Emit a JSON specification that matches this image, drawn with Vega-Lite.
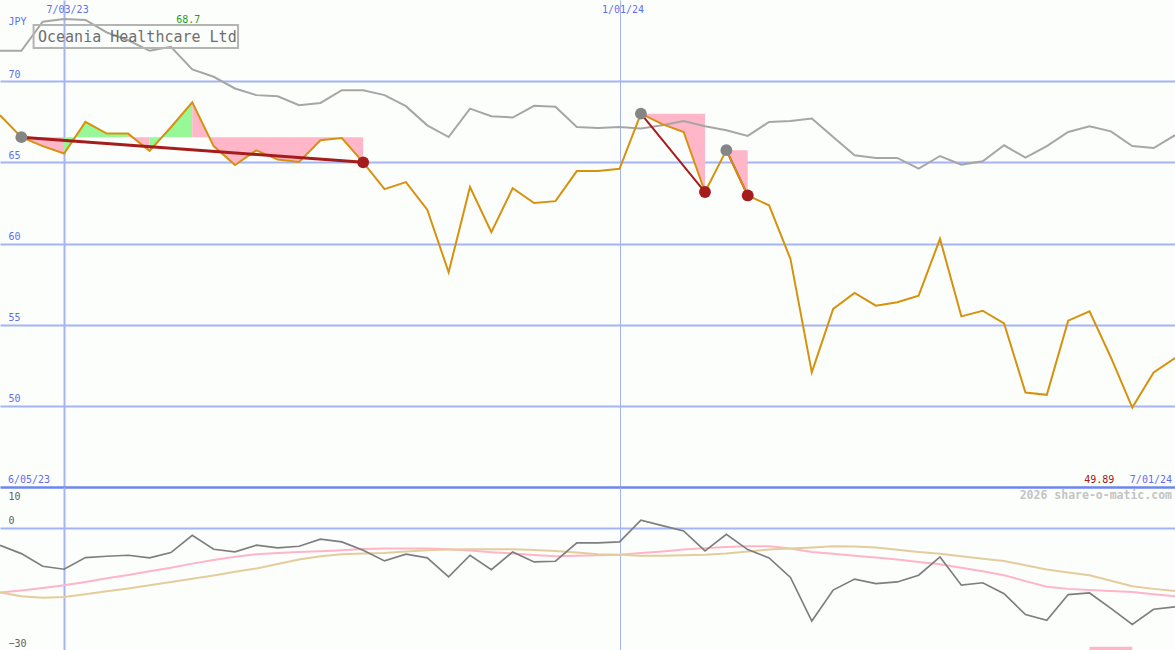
{
  "$schema": "https://vega.github.io/schema/vega-lite/v6.json",
  "background": "#fcfefc",
  "padding": 0,
  "autosize": {"type": "pad"},
  "spacing": 0,
  "bounds": "flush",
  "config": {"view": {"stroke": null}, "font": "DejaVu Sans Mono"},
  "datasets": {
    "weekly": [
      {"d":"2023-06-12","p":67.9,"g":71.87,"o":-4.29,"m1":-15.9,"m2":-15.9},
      {"d":"2023-06-19","p":66.55,"g":71.87,"o":-6.34,"m1":-15.4,"m2":-16.8},
      {"d":"2023-06-26","p":66.0,"g":73.66,"o":-9.45,"m1":-14.8,"m2":-17.2},
      {"d":"2023-07-03","p":65.54,"g":73.83,"o":-10.18,"m1":-14.1,"m2":-17.0},
      {"d":"2023-07-10","p":67.49,"g":73.77,"o":-7.32,"m1":-13.3,"m2":-16.3},
      {"d":"2023-07-17","p":66.77,"g":73.0,"o":-7.0,"m1":-12.4,"m2":-15.6},
      {"d":"2023-07-24","p":66.77,"g":72.52,"o":-6.75,"m1":-11.6,"m2":-14.9},
      {"d":"2023-07-31","p":65.7,"g":71.87,"o":-7.4,"m1":-10.7,"m2":-14.1},
      {"d":"2023-08-07","p":67.16,"g":72.12,"o":-6.09,"m1":-9.8,"m2":-13.3},
      {"d":"2023-08-14","p":68.7,"g":70.72,"o":-1.84,"m1":-8.8,"m2":-12.5},
      {"d":"2023-08-21","p":66.0,"g":70.27,"o":-5.28,"m1":-7.9,"m2":-11.7},
      {"d":"2023-08-28","p":64.83,"g":69.55,"o":-5.93,"m1":-7.1,"m2":-10.8},
      {"d":"2023-09-04","p":65.74,"g":69.14,"o":-4.29,"m1":-6.5,"m2":-10.0},
      {"d":"2023-09-11","p":65.17,"g":69.07,"o":-4.95,"m1":-6.2,"m2":-8.9},
      {"d":"2023-09-18","p":65.02,"g":68.52,"o":-4.54,"m1":-5.95,"m2":-7.8},
      {"d":"2023-09-25","p":66.36,"g":68.66,"o":-2.82,"m1":-5.77,"m2":-7.0},
      {"d":"2023-10-02","p":66.5,"g":69.44,"o":-3.48,"m1":-5.5,"m2":-6.5},
      {"d":"2023-10-09","p":65.0,"g":69.44,"o":-5.52,"m1":-5.2,"m2":-6.3},
      {"d":"2023-10-16","p":63.35,"g":69.14,"o":-8.14,"m1":-5.1,"m2":-6.2},
      {"d":"2023-10-23","p":63.78,"g":68.46,"o":-6.5,"m1":-5.1,"m2":-5.8},
      {"d":"2023-10-30","p":62.08,"g":67.28,"o":-7.4,"m1":-5.1,"m2":-5.5},
      {"d":"2023-11-06","p":58.23,"g":66.56,"o":-12.07,"m1":-5.3,"m2":-5.35},
      {"d":"2023-11-13","p":63.48,"g":68.31,"o":-6.75,"m1":-5.6,"m2":-5.28},
      {"d":"2023-11-20","p":60.7,"g":67.84,"o":-10.27,"m1":-6.0,"m2":-5.28},
      {"d":"2023-11-27","p":63.41,"g":67.76,"o":-5.93,"m1":-6.3,"m2":-5.28},
      {"d":"2023-12-04","p":62.49,"g":68.48,"o":-8.39,"m1":-6.7,"m2":-5.45},
      {"d":"2023-12-11","p":62.61,"g":68.42,"o":-8.22,"m1":-7.0,"m2":-5.68},
      {"d":"2023-12-18","p":64.46,"g":67.18,"o":-3.72,"m1":-6.9,"m2":-6.1},
      {"d":"2023-12-25","p":64.46,"g":67.12,"o":-3.72,"m1":-6.75,"m2":-6.5},
      {"d":"2024-01-01","p":64.6,"g":67.18,"o":-3.48,"m1":-6.6,"m2":-6.6},
      {"d":"2024-01-08","p":68.0,"g":67.08,"o":1.84,"m1":-6.2,"m2":-6.9},
      {"d":"2024-01-15","p":67.35,"g":67.28,"o":0.53,"m1":-5.8,"m2":-6.85},
      {"d":"2024-01-22","p":66.87,"g":67.55,"o":-0.78,"m1":-5.36,"m2":-6.75},
      {"d":"2024-01-29","p":63.17,"g":67.22,"o":-5.68,"m1":-5.0,"m2":-6.6},
      {"d":"2024-02-05","p":65.75,"g":66.98,"o":-1.6,"m1":-4.7,"m2":-6.3},
      {"d":"2024-02-12","p":62.96,"g":66.63,"o":-5.36,"m1":-4.54,"m2":-5.8},
      {"d":"2024-02-19","p":62.35,"g":67.49,"o":-7.4,"m1":-4.54,"m2":-5.36},
      {"d":"2024-02-26","p":59.05,"g":67.55,"o":-12.2,"m1":-5.1,"m2":-5.1},
      {"d":"2024-03-04","p":52.06,"g":67.7,"o":-22.9,"m1":-5.93,"m2":-4.87},
      {"d":"2024-03-11","p":55.97,"g":66.56,"o":-15.3,"m1":-6.4,"m2":-4.54},
      {"d":"2024-03-18","p":56.96,"g":65.43,"o":-12.6,"m1":-6.9,"m2":-4.6},
      {"d":"2024-03-25","p":56.17,"g":65.27,"o":-13.7,"m1":-7.3,"m2":-4.87},
      {"d":"2024-04-01","p":56.38,"g":65.27,"o":-13.3,"m1":-7.8,"m2":-5.4},
      {"d":"2024-04-08","p":56.79,"g":64.61,"o":-11.66,"m1":-8.4,"m2":-5.93},
      {"d":"2024-04-15","p":60.29,"g":65.39,"o":-7.16,"m1":-8.96,"m2":-6.4},
      {"d":"2024-04-22","p":55.51,"g":64.86,"o":-14.1,"m1":-9.8,"m2":-7.0},
      {"d":"2024-04-29","p":55.86,"g":65.06,"o":-13.5,"m1":-10.7,"m2":-7.6},
      {"d":"2024-05-06","p":55.08,"g":66.05,"o":-16.2,"m1":-11.66,"m2":-8.14},
      {"d":"2024-05-13","p":50.82,"g":65.29,"o":-21.3,"m1":-13.1,"m2":-9.2},
      {"d":"2024-05-20","p":50.68,"g":66.0,"o":-22.7,"m1":-14.5,"m2":-10.27},
      {"d":"2024-05-27","p":55.25,"g":66.87,"o":-16.4,"m1":-15.0,"m2":-11.0},
      {"d":"2024-06-03","p":55.82,"g":67.22,"o":-16.0,"m1":-15.3,"m2":-11.66},
      {"d":"2024-06-10","p":52.98,"g":66.91,"o":-19.8,"m1":-15.5,"m2":-13.0},
      {"d":"2024-06-17","p":49.89,"g":66.0,"o":-23.7,"m1":-15.75,"m2":-14.36},
      {"d":"2024-06-24","p":52.06,"g":65.88,"o":-20.0,"m1":-16.3,"m2":-15.0},
      {"d":"2024-07-01","p":52.94,"g":66.67,"o":-19.4,"m1":-16.8,"m2":-15.5}
    ],
    "fills": [
      {"seg":"A","d":"2023-06-19","p":66.55,"lvl":66.55,"c":"loss"},
      {"seg":"A","d":"2023-06-26","p":66.0,"lvl":66.55,"c":"loss"},
      {"seg":"A","d":"2023-07-03","p":65.54,"lvl":66.55,"c":"loss"},
      {"seg":"B","d":"2023-07-03","p":65.54,"lvl":66.55,"c":"gain"},
      {"seg":"B","d":"2023-07-10","p":67.49,"lvl":66.55,"c":"gain"},
      {"seg":"B","d":"2023-07-17","p":66.77,"lvl":66.55,"c":"gain"},
      {"seg":"B","d":"2023-07-24","p":66.77,"lvl":66.55,"c":"gain"},
      {"seg":"C","d":"2023-07-24","p":66.77,"lvl":66.55,"c":"loss"},
      {"seg":"C","d":"2023-07-31","p":65.7,"lvl":66.55,"c":"loss"},
      {"seg":"D","d":"2023-07-31","p":65.7,"lvl":66.55,"c":"gain"},
      {"seg":"D","d":"2023-08-07","p":67.16,"lvl":66.55,"c":"gain"},
      {"seg":"D","d":"2023-08-14","p":68.7,"lvl":66.55,"c":"gain"},
      {"seg":"E","d":"2023-08-14","p":68.7,"lvl":66.55,"c":"loss"},
      {"seg":"E","d":"2023-08-21","p":66.0,"lvl":66.55,"c":"loss"},
      {"seg":"E","d":"2023-08-28","p":64.83,"lvl":66.55,"c":"loss"},
      {"seg":"E","d":"2023-09-04","p":65.74,"lvl":66.55,"c":"loss"},
      {"seg":"E","d":"2023-09-11","p":65.17,"lvl":66.55,"c":"loss"},
      {"seg":"E","d":"2023-09-18","p":65.02,"lvl":66.55,"c":"loss"},
      {"seg":"E","d":"2023-09-25","p":66.36,"lvl":66.55,"c":"loss"},
      {"seg":"E","d":"2023-10-02","p":66.5,"lvl":66.55,"c":"loss"},
      {"seg":"E","d":"2023-10-09","p":65.0,"lvl":66.55,"c":"loss"},
      {"seg":"F","d":"2024-01-08","p":68.0,"lvl":68.0,"c":"loss"},
      {"seg":"F","d":"2024-01-15","p":67.35,"lvl":68.0,"c":"loss"},
      {"seg":"F","d":"2024-01-22","p":66.87,"lvl":68.0,"c":"loss"},
      {"seg":"F","d":"2024-01-29","p":63.17,"lvl":68.0,"c":"loss"},
      {"seg":"G","d":"2024-02-05","p":65.75,"lvl":65.75,"c":"loss"},
      {"seg":"G","d":"2024-02-12","p":62.96,"lvl":65.75,"c":"loss"}
    ],
    "trend": [
      {"seg":1,"d":"2023-06-19","v":66.55},
      {"seg":1,"d":"2023-10-09","v":65.0},
      {"seg":2,"d":"2024-01-08","v":68.0},
      {"seg":2,"d":"2024-01-29","v":63.17},
      {"seg":3,"d":"2024-02-05","v":65.75},
      {"seg":3,"d":"2024-02-12","v":62.96}
    ],
    "pts": [
      {"kind":"start","d":"2023-06-19","v":66.55},
      {"kind":"end","d":"2023-10-09","v":65.0},
      {"kind":"start","d":"2024-01-08","v":68.0},
      {"kind":"end","d":"2024-01-29","v":63.17},
      {"kind":"start","d":"2024-02-05","v":65.75},
      {"kind":"end","d":"2024-02-12","v":62.96}
    ]
  },
  "vconcat": [
    {
      "width": 1175,
      "height": 487,
      "resolve": {"scale": {"color": "independent"}},
      "encoding": {
        "x": {
          "field": "d", "type": "temporal",
          "scale": {"type": "utc", "domain": [{"year": 2023, "month": 6, "date": 12, "utc": true}, {"year": 2024, "month": 7, "date": 1, "utc": true}]},
          "axis": {
            "orient": "top", "title": null,
            "values": [{"year": 2023, "month": 7, "date": 3, "utc": true}, {"year": 2024, "month": 1, "date": 1, "utc": true}],
            "labelExpr": "utcFormat(datum.value, '%-m/%d/%y')",
            "domain": false, "ticks": false, "tickSize": 0,
            "labelPadding": -14, "labelOffset": 3, "labelColor": "#5c6ff2", "labelFontSize": 10, "labelFont": "DejaVu Sans Mono",
            "grid": true, "gridColor": "#a4b4f4",
            "gridWidth": {"condition": {"test": "utcmonth(datum.value) == 6", "value": 2}, "value": 1}
          }
        }
      },
      "layer": [
        {
          "data": {"name": "fills"},
          "mark": {"type": "area", "interpolate": "linear", "opacity": 1},
          "encoding": {
            "y": {"field": "p", "type": "quantitative", "scale": {"domain": [45, 75], "nice": false, "zero": false},
              "axis": {
                "orient": "left",
                "values": [45, 50, 55, 60, 65, 70],
                "labelExpr": "datum.value == 45 ? '' : datum.label",
                "domain": false, "ticks": false, "tickSize": 0,
                "labelPadding": -8, "labelAlign": "left", "labelBaseline": "bottom", "labelOffset": -2,
                "labelColor": "#5c6ff2", "labelFontSize": 10, "labelFont": "DejaVu Sans Mono",
                "grid": true,
                "gridColor": {"condition": {"test": "datum.value == 45", "value": "#6f86ee"}, "value": "#a4b4f4"},
                "gridWidth": {"condition": {"test": "datum.value == 45", "value": 2.5}, "value": 2},
                "title": "JPY", "titleAngle": 0, "titleX": 8, "titleY": 24, "titleAlign": "left", "titleBaseline": "alphabetic",
                "titleColor": "#5c6ff2", "titleFontSize": 10, "titleFontWeight": "normal", "titleFont": "DejaVu Sans Mono"
              }
            },
            "y2": {"field": "lvl"},
            "detail": {"field": "seg"},
            "color": {"field": "c", "type": "nominal", "scale": {"domain": ["gain", "loss"], "range": ["#98f898", "#ffb6c8"]}, "legend": null}
          }
        },
        {
          "data": {"name": "weekly"},
          "mark": {"type": "line", "color": "#a6a6a6", "strokeWidth": 2, "clip": true},
          "encoding": {"y": {"field": "g", "type": "quantitative"}}
        },
        {
          "data": {"name": "trend"},
          "transform": [{"filter": "datum.seg != 1"}],
          "mark": {"type": "line", "color": "#a41c1c", "strokeWidth": 2},
          "encoding": {"y": {"field": "v", "type": "quantitative"}, "detail": {"field": "seg"}}
        },
        {
          "data": {"name": "weekly"},
          "mark": {"type": "line", "color": "#d6920e", "strokeWidth": 2, "clip": true},
          "encoding": {"y": {"field": "p", "type": "quantitative"}}
        },
        {
          "data": {"name": "trend"},
          "transform": [{"filter": "datum.seg == 1"}],
          "mark": {"type": "line", "color": "#a41c1c", "strokeWidth": 3},
          "encoding": {"y": {"field": "v", "type": "quantitative"}, "detail": {"field": "seg"}}
        },
        {
          "data": {"name": "pts"},
          "mark": {"type": "circle", "size": 140, "opacity": 1},
          "encoding": {
            "y": {"field": "v", "type": "quantitative"},
            "fill": {"field": "kind", "type": "nominal", "scale": {"domain": ["start", "end"], "range": ["#858585", "#a41c1c"]}, "legend": null}
          }
        },
        {
          "data": {"values": [{"d": "2023-06-23", "d2": "2023-08-29", "v": 73.46, "v2": 72.04}]},
          "mark": {"type": "rect", "fill": null, "stroke": "#b4b4b4", "strokeWidth": 2},
          "encoding": {"x2": {"field": "d2"}, "y": {"field": "v", "type": "quantitative"}, "y2": {"field": "v2"}}
        },
        {
          "data": {"values": [{"d": "2023-07-27", "v": 72.72, "t": "Oceania Healthcare Ltd"}]},
          "mark": {"type": "text", "fontSize": 15, "color": "#6e6e6e", "align": "center", "baseline": "middle", "font": "DejaVu Sans Mono"},
          "encoding": {"y": {"field": "v", "type": "quantitative"}, "text": {"field": "t"}}
        },
        {
          "data": {"values": [{"d": "2023-08-14", "v": 73.77, "t": "68.7"}]},
          "mark": {"type": "text", "fontSize": 10, "color": "#22a022", "align": "center", "baseline": "middle", "dx": -4, "font": "DejaVu Sans Mono"},
          "encoding": {"y": {"field": "v", "type": "quantitative"}, "text": {"field": "t"}}
        },
        {
          "data": {"values": [{"d": "2023-06-12", "v": 45.43, "t": "6/05/23"}]},
          "mark": {"type": "text", "fontSize": 10, "color": "#5c6ff2", "align": "left", "baseline": "middle", "dx": 8, "font": "DejaVu Sans Mono"},
          "encoding": {"y": {"field": "v", "type": "quantitative"}, "text": {"field": "t"}}
        },
        {
          "data": {"values": [{"d": "2024-07-01", "v": 45.43, "t": "7/01/24"}]},
          "mark": {"type": "text", "fontSize": 10, "color": "#5c6ff2", "align": "right", "baseline": "middle", "dx": -3, "font": "DejaVu Sans Mono"},
          "encoding": {"y": {"field": "v", "type": "quantitative"}, "text": {"field": "t"}}
        },
        {
          "data": {"values": [{"d": "2024-06-17", "v": 45.43, "t": "49.89"}]},
          "mark": {"type": "text", "fontSize": 10, "color": "#a01818", "align": "right", "baseline": "middle", "dx": -18, "font": "DejaVu Sans Mono"},
          "encoding": {"y": {"field": "v", "type": "quantitative"}, "text": {"field": "t"}}
        }
      ]
    },
    {
      "width": 1175,
      "height": 163,
      "encoding": {
        "x": {
          "field": "d", "type": "temporal",
          "scale": {"type": "utc", "domain": [{"year": 2023, "month": 6, "date": 12, "utc": true}, {"year": 2024, "month": 7, "date": 1, "utc": true}]},
          "axis": {
            "orient": "bottom", "title": null, "labels": false,
            "values": [{"year": 2023, "month": 7, "date": 3, "utc": true}, {"year": 2024, "month": 1, "date": 1, "utc": true}],
            "domain": false, "ticks": false, "tickSize": 0,
            "grid": true, "gridColor": "#a4b4f4",
            "gridWidth": {"condition": {"test": "utcmonth(datum.value) == 6", "value": 2}, "value": 1}
          }
        }
      },
      "layer": [
        {
          "data": {"name": "weekly"},
          "mark": {"type": "line", "color": "#ffb4c8", "strokeWidth": 2, "clip": true},
          "encoding": {
            "y": {"field": "m1", "type": "quantitative", "scale": {"domain": [-30, 10], "nice": false, "zero": false},
              "axis": {
                "orient": "left", "title": null,
                "values": [10, 0, -30],
                "domain": false, "ticks": false, "tickSize": 0,
                "labelPadding": -8, "labelAlign": "left",
                "labelBaseline": {"condition": {"test": "datum.value == 10", "value": "top"}, "value": "bottom"},
                "labelOffset": {"condition": {"test": "datum.value == 10", "value": 4}, "value": -2},
                "labelColor": "#606060", "labelFontSize": 10, "labelFont": "DejaVu Sans Mono",
                "grid": true,
                "gridColor": {"condition": {"test": "datum.value == 0", "value": "#a4b4f4"}, "value": "rgba(0,0,0,0)"},
                "gridWidth": 2
              }
            }
          }
        },
        {
          "data": {"name": "weekly"},
          "mark": {"type": "line", "color": "#e4cc9c", "strokeWidth": 2, "clip": true},
          "encoding": {"y": {"field": "m2", "type": "quantitative"}}
        },
        {
          "data": {"name": "weekly"},
          "mark": {"type": "line", "color": "#7e7e7e", "strokeWidth": 1.7, "clip": true},
          "encoding": {"y": {"field": "o", "type": "quantitative"}}
        },
        {
          "data": {"values": [{"d": "2024-06-03", "d2": "2024-06-17", "v": -30, "v2": -29.2}]},
          "mark": {"type": "rect", "color": "#ffb6c8"},
          "encoding": {"x2": {"field": "d2"}, "y": {"field": "v", "type": "quantitative"}, "y2": {"field": "v2"}}
        },
        {
          "data": {"values": [{"d": "2024-07-01", "v": 7.73, "t": "2026 share-o-matic.com"}]},
          "mark": {"type": "text", "fontSize": 11.5, "fontWeight": "bold", "color": "#c4c4c4", "align": "right", "baseline": "middle", "dx": -3, "font": "DejaVu Sans Mono"},
          "encoding": {"y": {"field": "v", "type": "quantitative"}, "text": {"field": "t"}}
        }
      ]
    }
  ]
}
